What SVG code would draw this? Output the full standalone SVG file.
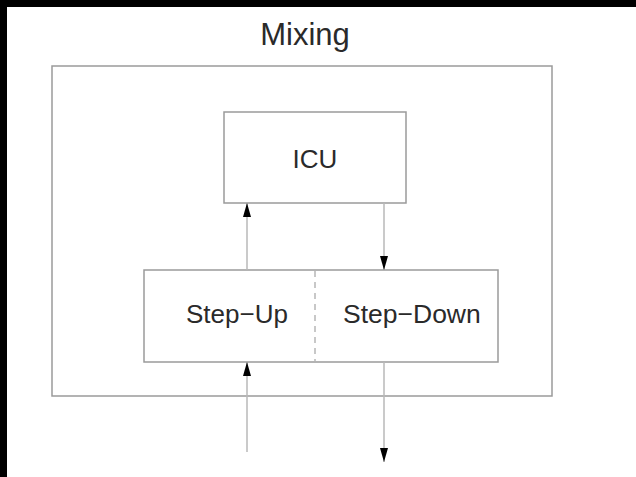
<svg xmlns="http://www.w3.org/2000/svg" width="636" height="477" viewBox="0 0 636 477">
<defs>
<style>
.box{fill:none;stroke:#9a9a9a;stroke-width:1.5}
.conn{fill:none;stroke:#b8b8b8;stroke-width:1.5}
.lbl{font-family:"Liberation Sans",Arial,sans-serif;fill:#2a2a2a}
</style>
<marker id="ah" viewBox="0 0 14 8" refX="14" refY="4" markerWidth="14" markerHeight="8" markerUnits="userSpaceOnUse" orient="auto">
<path d="M0,0 L14,4 L0,8 Z" fill="#000"/>
</marker>
</defs>
<rect x="0" y="0" width="636" height="477" fill="#000"/>
<rect x="7" y="7" width="629" height="470" fill="#fff"/>
<g id="mixing">
<rect class="box" x="52" y="66" width="500" height="330"/>
<text class="lbl" x="305" y="45" font-size="31" text-anchor="middle">Mixing</text>
</g>
<g id="icu">
<rect class="box" x="224" y="112" width="182" height="91"/>
<text class="lbl" x="315" y="168" font-size="26" text-anchor="middle">ICU</text>
</g>
<g id="step">
<rect class="box" x="144" y="270" width="354" height="92"/>
<line x1="315" y1="271" x2="315" y2="361" stroke="#c8c8c8" stroke-width="2" stroke-dasharray="6,5"/>
<text class="lbl" x="186" y="323" font-size="26">Step−Up</text>
<text class="lbl" x="343" y="323" font-size="26.5">Step−Down</text>
</g>
<g id="connectors">
<line class="conn" x1="247" y1="270" x2="247" y2="203" marker-end="url(#ah)"/>
<line class="conn" x1="384" y1="203" x2="384" y2="270" marker-end="url(#ah)"/>
<line class="conn" x1="247" y1="452" x2="247" y2="362" marker-end="url(#ah)"/>
<line class="conn" x1="384" y1="362" x2="384" y2="462" marker-end="url(#ah)"/>
</g>
</svg>
